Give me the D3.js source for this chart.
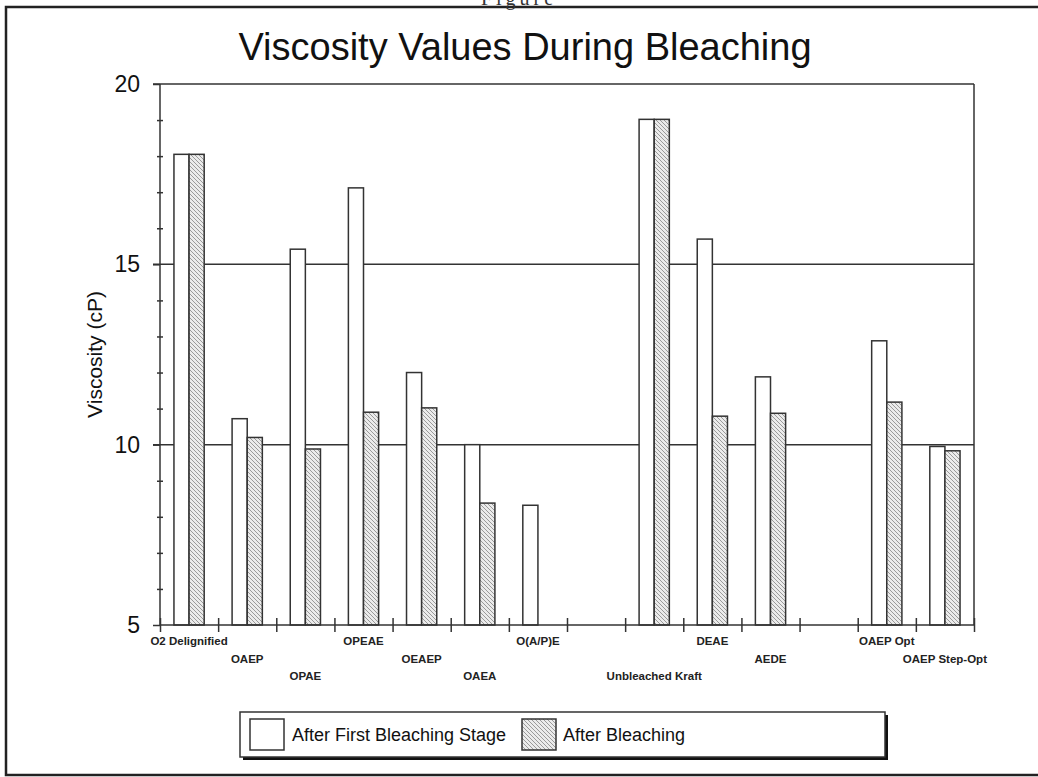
<!DOCTYPE html>
<html lang="en">
<head>
    <meta charset="UTF-8">
    <title>Viscosity Values During Bleaching</title>
    <style>
        body {
            margin: 0;
            padding: 0;
            background-color: #fff;
            font-family: 'Liberation Sans', Arial, sans-serif;
        }
        svg {
            display: block;
        }
        .axis path,
        .axis line {
            stroke: #333;
            stroke-width: 1.5px;
        }
        .axis text {
            fill: #111;
        }
        .grid {
            stroke: #333;
            stroke-width: 1.5px;
        }
        .bar {
            stroke: #333;
            stroke-width: 1.5px;
        }
    </style>
</head>
<body>
    <div id="chart"></div>

    <script src="https://d3js.org/d3.v7.min.js"></script>
    <script>
        // data
        const categories = ["O2 Delignified", "OAEP", "OPAE", "OPEAE", "OEAEP", "OAEA", "O(A/P)E",
            "", "Unbleached Kraft", "DEAE", "AEDE", "", "OAEP Opt", "OAEP Step-Opt"];
        const firstStage = [18.05, 10.72, 15.42, 17.12, 12.0, 10.0, 8.32, null, 19.02, 15.7, 11.88, null, 12.88, 9.95];
        const afterBleaching = [18.05, 10.2, 9.88, 10.9, 11.02, 8.38, null, null, 19.02, 10.79, 10.87, null, 11.18, 9.83];
        const majorTicks = [5, 10, 15, 20];
        const minorTicks = [6, 7, 8, 9, 11, 12, 13, 14, 16, 17, 18, 19];
        const gridValues = [10, 15];
        const seriesNames = ["After First Bleaching Stage", "After Bleaching"];

        const width = 1038;
        const height = 777;
        const plot = { left: 160, right: 974, top: 84, bottom: 625 };

        const svg = d3.select('#chart')
            .append('svg')
            .attr('width', width)
            .attr('height', height);

        // hatch pattern for the second series
        const defs = svg.append('defs');
        const pat = defs.append('pattern')
            .attr('id', 'hatch')
            .attr('patternUnits', 'userSpaceOnUse')
            .attr('width', 4)
            .attr('height', 4);
        pat.append('rect').attr('width', 4).attr('height', 4).attr('fill', '#ebebeb');
        pat.append('path')
            .attr('d', 'M-1,-1 L5,5 M-1,3 L1,5 M3,-1 L5,1')
            .attr('stroke', '#9a9a9a')
            .attr('stroke-width', 1);

        // outer frame of the page
        svg.append('rect')
            .attr('x', 6)
            .attr('y', 7)
            .attr('width', 1040)
            .attr('height', 768)
            .attr('fill', 'none')
            .attr('stroke', '#222')
            .attr('stroke-width', 2.5);

        // caption cut off at the top of the scan
        svg.append('text')
            .attr('x', 519)
            .attr('y', 5)
            .attr('text-anchor', 'middle')
            .style('font-family', "'Liberation Serif', serif")
            .style('font-size', '20px')
            .style('letter-spacing', '4px')
            .attr('fill', '#333')
            .text('Figure');

        svg.append('text')
            .attr('x', 525)
            .attr('y', 60)
            .attr('text-anchor', 'middle')
            .style('font-size', '38px')
            .attr('fill', '#111')
            .text('Viscosity Values During Bleaching');

        const y = d3.scaleLinear().domain([5, 20]).range([plot.bottom, plot.top]);
        const x = d3.scaleBand()
            .domain(d3.range(categories.length))
            .range([plot.left, plot.right]);
        const edge = d3.scaleLinear()
            .domain([0, categories.length])
            .range([plot.left, plot.right]);
        const barW = x.bandwidth() * 0.26;

        // gridlines + frame
        svg.selectAll('.grid')
            .data(gridValues)
            .enter()
            .append('line')
            .attr('class', 'grid')
            .attr('x1', plot.left - 7)
            .attr('x2', plot.right)
            .attr('y1', d => y(d))
            .attr('y2', d => y(d));

        svg.append('line')
            .attr('class', 'grid')
            .attr('x1', plot.left - 7)
            .attr('x2', plot.right)
            .attr('y1', y(20))
            .attr('y2', y(20));

        svg.append('line')
            .attr('class', 'grid')
            .attr('x1', plot.right)
            .attr('x2', plot.right)
            .attr('y1', y(20))
            .attr('y2', y(5));

        // bars
        const g = svg.append('g');
        g.selectAll('.bar1')
            .data(firstStage.map((v, i) => ({ v, i })).filter(d => d.v !== null))
            .enter()
            .append('rect')
            .attr('class', 'bar')
            .attr('x', d => x(d.i) + x.bandwidth() / 2 - barW)
            .attr('width', barW)
            .attr('y', d => y(d.v))
            .attr('height', d => y(5) - y(d.v))
            .attr('fill', '#fff');

        g.selectAll('.bar2')
            .data(afterBleaching.map((v, i) => ({ v, i })).filter(d => d.v !== null))
            .enter()
            .append('rect')
            .attr('class', 'bar')
            .attr('x', d => x(d.i) + x.bandwidth() / 2)
            .attr('width', barW)
            .attr('y', d => y(d.v))
            .attr('height', d => y(5) - y(d.v))
            .attr('fill', 'url(#hatch)');

        // y axis
        const yAxis = svg.append('g')
            .attr('class', 'axis')
            .attr('transform', `translate(${plot.left},0)`)
            .call(d3.axisLeft(y).tickValues(majorTicks).tickSize(7).tickPadding(13).tickFormat(d3.format('d')));
        yAxis.select('.domain').attr('d', `M0,${y(20)}V${y(5)}`);
        yAxis.selectAll('text').style('font-size', '23px');

        const yMinor = svg.append('g')
            .attr('class', 'axis')
            .attr('transform', `translate(${plot.left},0)`)
            .call(d3.axisLeft(y).tickValues(minorTicks).tickSize(3).tickFormat(''));
        yMinor.select('.domain').remove();
        yMinor.selectAll('line').attr('x2', -3).attr('x1', 3);

        svg.append('text')
            .attr('transform', `translate(102,${(plot.top + plot.bottom) / 2}) rotate(-90)`)
            .attr('text-anchor', 'middle')
            .style('font-size', '21px')
            .attr('fill', '#111')
            .text('Viscosity (cP)');

        // x axis: ticks on category edges, crossing the axis
        const xAxis = svg.append('g')
            .attr('class', 'axis')
            .attr('transform', `translate(0,${plot.bottom})`)
            .call(d3.axisBottom(edge).tickValues(d3.range(categories.length + 1)).tickSize(7).tickFormat(''));
        xAxis.select('.domain').attr('d', `M${plot.left},0H${plot.right}`);
        xAxis.selectAll('.tick line').attr('y1', -7);

        // category labels, staggered on three rows
        svg.selectAll('.xlabel')
            .data(categories)
            .enter()
            .append('text')
            .attr('class', 'xlabel')
            .attr('x', (d, i) => x(i) + x.bandwidth() / 2)
            .attr('y', (d, i) => plot.bottom + 20 + (i % 3) * 17.5)
            .attr('text-anchor', 'middle')
            .style('font-size', '11.5px')
            .style('font-weight', 'bold')
            .attr('fill', '#222')
            .text(d => d);

        // legend
        const lg = svg.append('g').attr('transform', 'translate(240,712)');
        lg.append('rect')
            .attr('x', 3).attr('y', 3)
            .attr('width', 645).attr('height', 45)
            .attr('fill', '#111');
        lg.append('rect')
            .attr('width', 645).attr('height', 45)
            .attr('fill', '#fff')
            .attr('stroke', '#333')
            .attr('stroke-width', 1.5);

        const items = [
            { name: seriesNames[0], fill: '#fff', sx: 10, tx: 52 },
            { name: seriesNames[1], fill: 'url(#hatch)', sx: 282, tx: 323 }
        ];
        items.forEach(it => {
            lg.append('rect')
                .attr('x', it.sx).attr('y', 7)
                .attr('width', 34).attr('height', 31)
                .attr('fill', it.fill)
                .attr('stroke', '#333')
                .attr('stroke-width', 1.5);
            lg.append('text')
                .attr('x', it.tx)
                .attr('y', 29)
                .style('font-size', '18px')
                .attr('fill', '#111')
                .text(it.name);
        });
    </script>
</body>
</html>
